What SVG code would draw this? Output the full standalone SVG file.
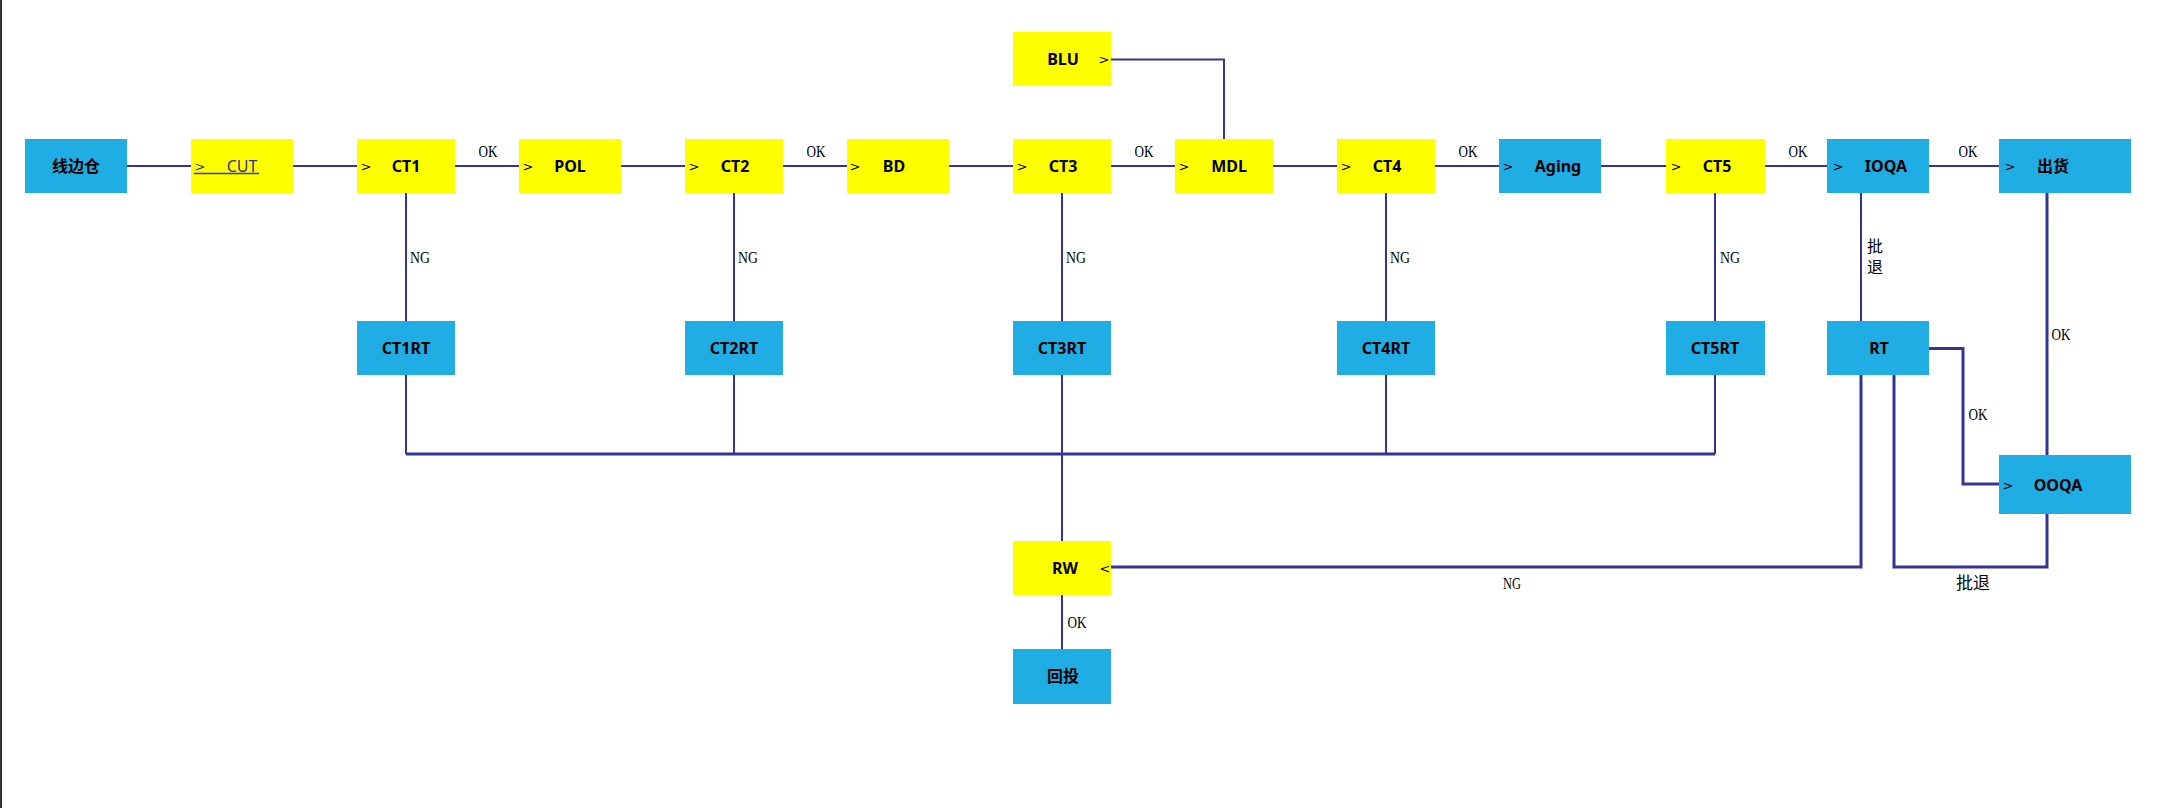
<svg xmlns="http://www.w3.org/2000/svg" width="2157" height="808" viewBox="0 0 2157 808">
<style>
.y{fill:#FFFF00}
.b{fill:#1FADE3}
.t{font-family:"Noto Sans","Noto Sans CJK SC",sans-serif;font-weight:bold;font-size:16px;fill:#000;text-anchor:middle}
.a{font-family:"DejaVu Sans",sans-serif;font-size:13px;fill:#000;text-anchor:middle}
.l{font-family:"Liberation Serif","Noto Sans CJK SC",serif;font-size:17px;fill:#000;text-anchor:middle}
.c path{stroke:#333399;stroke-width:2;fill:none}
.c path.w{stroke-width:3}
</style>
<rect x="0" y="0" width="2157" height="808" fill="#fff"/>
<line x1="1" y1="0" x2="1" y2="808" stroke="#333" stroke-width="2"/>
<g class="c" id="connectors">
<path d="M127 166H191M293 166H357M455 166H519M621 166H685M783 166H847M949 166H1013M1111 166H1175M1273 166H1337M1435 166H1499M1601 166H1666M1765 166H1827M1929 166H1999"/>
<path d="M1111 59.5H1224V139"/>
<path d="M406 193V321M406 375V454M734 193V321M734 375V454M1062 193V321M1062 375V541M1386 193V321M1386 375V454M1715 193V321M1715 375V454"/>
<path class="w" d="M406 454H1715"/>
<path d="M1062 595V649"/>
<path d="M1861 193V321"/>
<path class="w" d="M1861 375V567H1111"/>
<path class="w" d="M1894 375V567H2047V514"/>
<path class="w" d="M1929 348.5H1963V484H1999"/>
<path class="w" d="M2047 193V455"/>
<g id="edge-labels">
<text class="l" x="488" y="157" textLength="19" lengthAdjust="spacingAndGlyphs">OK</text>
<text class="l" x="816" y="157" textLength="19" lengthAdjust="spacingAndGlyphs">OK</text>
<text class="l" x="1144" y="157" textLength="19" lengthAdjust="spacingAndGlyphs">OK</text>
<text class="l" x="1468" y="157" textLength="19" lengthAdjust="spacingAndGlyphs">OK</text>
<text class="l" x="1798" y="157" textLength="19" lengthAdjust="spacingAndGlyphs">OK</text>
<text class="l" x="1968" y="157" textLength="19" lengthAdjust="spacingAndGlyphs">OK</text>
<text class="l" x="420" y="263" textLength="20" lengthAdjust="spacingAndGlyphs">NG</text>
<text class="l" x="748" y="263" textLength="20" lengthAdjust="spacingAndGlyphs">NG</text>
<text class="l" x="1076" y="263" textLength="20" lengthAdjust="spacingAndGlyphs">NG</text>
<text class="l" x="1400" y="263" textLength="20" lengthAdjust="spacingAndGlyphs">NG</text>
<text class="l" x="1730" y="263" textLength="20" lengthAdjust="spacingAndGlyphs">NG</text>
<text class="l" x="1875" y="252" style="font-size:16px">批</text>
<text class="l" x="1875" y="273" style="font-size:16px">退</text>
<text class="l" x="2061" y="340" textLength="19" lengthAdjust="spacingAndGlyphs">OK</text>
<text class="l" x="1978" y="420" textLength="19" lengthAdjust="spacingAndGlyphs">OK</text>
<text class="l" x="1077" y="628" textLength="19" lengthAdjust="spacingAndGlyphs">OK</text>
<text class="l" x="1512" y="589" textLength="18" lengthAdjust="spacingAndGlyphs">NG</text>
<text class="l" x="1973" y="589">批退</text>
</g>
</g>
<g id="n-xbc"><rect class="b" x="25" y="139" width="102" height="54"/><text class="t" x="76" y="172">线边仓</text></g>
<g id="n-cut"><rect class="y" x="191" y="139" width="102" height="54"/><text class="a" x="200" y="171" style="fill:#333399">&gt;</text><text class="t" x="242" y="172" style="fill:#333399;font-weight:normal">CUT</text><line x1="194" y1="173.5" x2="259" y2="173.5" stroke="#333399" stroke-width="1.5"/></g>
<g id="n-ct1"><rect class="y" x="357" y="139" width="98" height="54"/><text class="a" x="366" y="171">&gt;</text><text class="t" x="406" y="172">CT1</text></g>
<g id="n-pol"><rect class="y" x="519" y="139" width="102" height="54"/><text class="a" x="528" y="171">&gt;</text><text class="t" x="570" y="172">POL</text></g>
<g id="n-ct2"><rect class="y" x="685" y="139" width="98" height="54"/><text class="a" x="694" y="171">&gt;</text><text class="t" x="735" y="172">CT2</text></g>
<g id="n-bd"><rect class="y" x="847" y="139" width="102" height="54"/><text class="a" x="855" y="171">&gt;</text><text class="t" x="894" y="172">BD</text></g>
<g id="n-ct3"><rect class="y" x="1013" y="139" width="98" height="54"/><text class="a" x="1022" y="171">&gt;</text><text class="t" x="1063" y="172">CT3</text></g>
<g id="n-mdl"><rect class="y" x="1175" y="139" width="98" height="54"/><text class="a" x="1184" y="171">&gt;</text><text class="t" x="1229" y="172">MDL</text></g>
<g id="n-ct4"><rect class="y" x="1337" y="139" width="98" height="54"/><text class="a" x="1346" y="171">&gt;</text><text class="t" x="1387" y="172">CT4</text></g>
<g id="n-aging"><rect class="b" x="1499" y="139" width="102" height="54"/><text class="a" x="1508" y="171">&gt;</text><text class="t" x="1558" y="172">Aging</text></g>
<g id="n-ct5"><rect class="y" x="1666" y="139" width="99" height="54"/><text class="a" x="1676" y="171">&gt;</text><text class="t" x="1717" y="172">CT5</text></g>
<g id="n-ioqa"><rect class="b" x="1827" y="139" width="102" height="54"/><text class="a" x="1838" y="171">&gt;</text><text class="t" x="1886" y="172">IOQA</text></g>
<g id="n-ship"><rect class="b" x="1999" y="139" width="132" height="54"/><text class="a" x="2010" y="171">&gt;</text><text class="t" x="2053" y="172">出货</text></g>
<g id="n-blu"><rect class="y" x="1013" y="32" width="98" height="54"/><text class="t" x="1063" y="65">BLU</text><text class="a" x="1104" y="64">&gt;</text></g>
<g id="n-ct1rt"><rect class="b" x="357" y="321" width="98" height="54"/><text class="t" x="406" y="354">CT1RT</text></g>
<g id="n-ct2rt"><rect class="b" x="685" y="321" width="98" height="54"/><text class="t" x="734" y="354">CT2RT</text></g>
<g id="n-ct3rt"><rect class="b" x="1013" y="321" width="98" height="54"/><text class="t" x="1062" y="354">CT3RT</text></g>
<g id="n-ct4rt"><rect class="b" x="1337" y="321" width="98" height="54"/><text class="t" x="1386" y="354">CT4RT</text></g>
<g id="n-ct5rt"><rect class="b" x="1666" y="321" width="99" height="54"/><text class="t" x="1715" y="354">CT5RT</text></g>
<g id="n-rt"><rect class="b" x="1827" y="321" width="102" height="54"/><text class="t" x="1879" y="354">RT</text></g>
<g id="n-ooqa"><rect class="b" x="1999" y="455" width="132" height="59"/><text class="a" x="2008" y="490">&gt;</text><text class="t" x="2058" y="491">OOQA</text></g>
<g id="n-rw"><rect class="y" x="1013" y="541" width="98" height="54"/><text class="t" x="1065" y="574">RW</text><text class="a" x="1105" y="573">&lt;</text></g>
<g id="n-huitou"><rect class="b" x="1013" y="649" width="98" height="55"/><text class="t" x="1063" y="682">回投</text></g>
</svg>
